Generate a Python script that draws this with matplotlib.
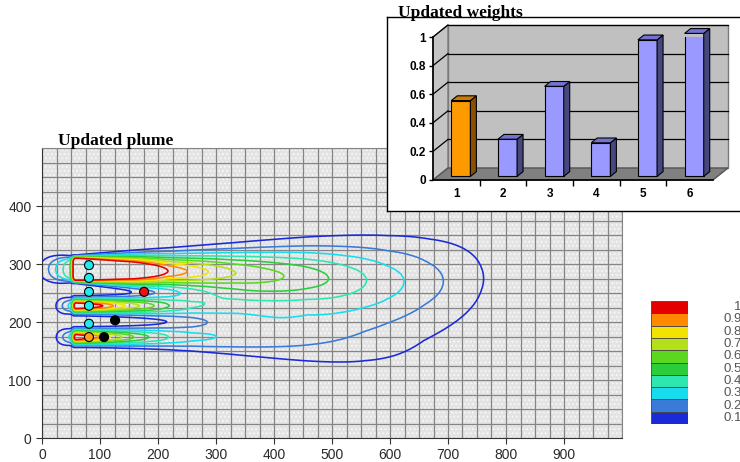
import numpy as np
import matplotlib
matplotlib.use('Agg')
import matplotlib.pyplot as plt
from matplotlib.patches import Polygon, Rectangle

plt.rcParams['font.family'] = ['Liberation Sans', 'DejaVu Sans']

# ---- plume data ----
levels = [0.1, 0.2, 0.3, 0.4, 0.5, 0.6, 0.7, 0.8, 0.9, 1.0]
level_labels = ['0.1', '0.2', '0.3', '0.4', '0.5', '0.6', '0.7', '0.8', '0.9', '1']
level_colors = ['#1a2ad8', '#3a7ad8', '#18dced', '#2ee6b0', '#2ccd3c',
                '#5ad820', '#b4e01a', '#f2e400', '#ff8a00', '#e40000']

# three sources: x, y, core width, spreading (s0 + k*d + q*d^2), drift, upstream tail
src_x = [58, 58, 58]
src_y = [291, 228, 174]
src_w = [40, 12, 14]
src_s0 = [3, 7, 7]
src_k = [0.07, 0.01, 0.01]
src_q = [1.5e-5, 1.5e-4, 1.5e-4]
src_drift = [-0.02, 0.0, 0.0]
src_tail = [50, 30, 30]
# centreline level vs distance downstream, one pair per source
up_d = [0, 100, 159, 192, 228, 271, 332, 401, 461, 537, 611, 709, 800, 900]
up_c = [1.6, 1.35, 1.0, 0.9, 0.8, 0.7, 0.6, 0.5, 0.4, 0.28, 0.19, 0.09, 0.03, 0.0]
mid_d = [0, 47, 65, 85, 110, 135, 160, 200, 280, 400, 500, 600, 700]
mid_c = [1.2, 1.0, 0.9, 0.8, 0.7, 0.6, 0.5, 0.4, 0.28, 0.14, 0.08, 0.03, 0.0]
low_d = [0, 25, 42, 60, 80, 100, 126, 160, 200, 260, 400, 500, 600, 720]
low_c = [1.15, 1.0, 0.9, 0.8, 0.7, 0.6, 0.5, 0.4, 0.33, 0.28, 0.19, 0.12, 0.06, 0.0]
profiles = [(up_d, up_c), (mid_d, mid_c), (low_d, low_c)]

# wells
well_x = [81, 81, 81, 81, 81, 81, 176, 126, 107]
well_y = [298, 276, 252, 228, 197, 174, 252, 203, 174]
well_col = ['#22e8f0'] * 5 + ['#ff9a1a', '#ee1111', 'black', 'black']

# ---- weights ----
bar_cat = [1, 2, 3, 4, 5, 6]
bar_val = [0.53, 0.26, 0.63, 0.235, 0.955, 1.0]
bar_front = ['#ff9900', '#9999ff', '#9999ff', '#9999ff', '#9999ff', '#9999ff']
bar_side = ['#8a5000', '#47477f', '#47477f', '#47477f', '#47477f', '#47477f']
bar_top = ['#cc7a00', '#7373d6', '#7373d6', '#7373d6', '#7373d6', '#7373d6']
wt_ticks = [0, 0.2, 0.4, 0.6, 0.8, 1]
wt_ticklabels = ['0', '0.2', '0.4', '0.6', '0.8', '1']


def erf(z):
    s = np.sign(z)
    z = np.abs(z)
    t = 1.0 / (1.0 + 0.3275911 * z)
    p = ((((1.061405429 * t - 1.453152027) * t + 1.421413741) * t
          - 0.284496736) * t + 0.254829592) * t
    return s * (1 - p * np.exp(-z * z))


xg = np.linspace(0, 1000, 501)
yg = np.linspace(0, 500, 501)
X, Y = np.meshgrid(xg, yg)
C = np.zeros_like(X)
for i, (pd_, pc_) in enumerate(profiles):
    sx, w = src_x[i], src_w[i]
    d = X - sx
    up = np.minimum(d, 0)
    dd = np.maximum(d, 0)
    sy = src_y[i] + src_drift[i] * dd
    tail = 0.7 * np.exp(-(up / 5) ** 2) + 0.3 * np.exp(-(up / src_tail[i]) ** 2)
    cc = np.where(d >= 0, np.interp(dd, pd_, pc_), pc_[0] * tail)
    sig = src_s0[i] + src_k[i] * dd + src_q[i] * dd ** 2 + 0.15 * np.abs(up)
    s2 = np.sqrt(2) * sig
    prof = 0.5 * (erf((Y - (sy - w / 2)) / s2) - erf((Y - (sy + w / 2)) / s2))
    prof = prof / erf(w / (2 * s2))
    C += cc * prof

fig = plt.figure(figsize=(7.4, 4.62), dpi=100)

# ---- plume panel ----
ax = fig.add_axes([42 / 740, 1 - 438 / 462, 580 / 740, 290 / 462])
ax.add_patch(Rectangle((0, 0), 1, 1, transform=ax.transAxes, facecolor='#e3e3e3',
                       edgecolor='#f6f6f6', hatch='....', lw=0, zorder=0))
ax.contour(X, Y, C, levels=levels, colors=level_colors, linewidths=1.15, zorder=3)
ax.scatter(well_x, well_y, s=42, c=well_col, edgecolors='black', linewidths=0.8, zorder=5)
ax.set_xlim(0, 1000)
ax.set_ylim(0, 500)
ax.set_xticks(np.arange(0, 1000, 100))
ax.set_yticks(np.arange(0, 500, 100))
ax.set_xticks(np.arange(0, 1001, 25), minor=True)
ax.set_yticks(np.arange(0, 501, 25), minor=True)
ax.grid(which='both', color='#858585', lw=0.9, zorder=1)
ax.set_axisbelow(True)
ax.tick_params(which='major', length=4, color='#333333', labelsize=10, labelcolor='#2a2a2a')
ax.tick_params(which='minor', length=0)
for s in ['top', 'right']:
    ax.spines[s].set_color('#858585')
for s in ['left', 'bottom']:
    ax.spines[s].set_color('#333333')
fig.text(58 / 740, 1 - 145 / 462, 'Updated plume', family='Liberation Serif',
         weight='bold', size=12.5, va='baseline')

# colour legend
lg = fig.add_axes([651 / 740, 1 - 424 / 462, 37 / 740, 123 / 462])
lg.barh(np.arange(10), 1, height=1, color=level_colors, edgecolor='#444444', lw=0.6)
lg.set_xlim(0, 1)
lg.set_ylim(-0.5, 9.5)
lg.axis('off')
for i, lab in enumerate(level_labels):
    lg.text(2.45, i, lab, transform=lg.get_yaxis_transform(), ha='right', va='center',
            size=9.5, color='#555555')

# ---- weights panel ----
frame = fig.add_axes([387 / 740, 1 - 211 / 462, 360 / 740, 194 / 462])
frame.set_xticks([])
frame.set_yticks([])
for s in frame.spines.values():
    s.set_color('black')
    s.set_linewidth(1.0)
fig.text(398 / 740, 1 - 17 / 462, 'Updated weights', family='Liberation Serif',
         weight='bold', size=12.5, va='baseline')

bx = fig.add_axes([433 / 740, 1 - 180 / 462, 280 / 740, 143 / 462])
bx.set_xlim(0.5, 6.5)
bx.set_ylim(0, 1)
bx.patch.set_alpha(0)
DX, DY = 0.321, 0.0839
x0, x1 = 0.5, 6.5
bx.add_patch(Polygon([(x0 + DX, DY), (x1 + DX, DY), (x1 + DX, 1 + DY), (x0 + DX, 1 + DY)],
                     facecolor='#c0c0c0', edgecolor='#7a7a7a', lw=1, clip_on=False, zorder=0))
bx.add_patch(Polygon([(x0, 0), (x0 + DX, DY), (x0 + DX, 1 + DY), (x0, 1)],
                     facecolor='#c4c4c4', edgecolor='#7a7a7a', lw=1, clip_on=False, zorder=0))
bx.add_patch(Polygon([(x0, 0), (x1, 0), (x1 + DX, DY), (x0 + DX, DY)],
                     facecolor='#808080', edgecolor='#555555', lw=1, clip_on=False, zorder=0))
for v in wt_ticks[1:]:
    bx.plot([x0 + DX, x1 + DX], [v + DY, v + DY], color='black', lw=0.9, clip_on=False, zorder=1)
    bx.plot([x0, x0 + DX], [v, v + DY], color='black', lw=0.9, clip_on=False, zorder=1)

f0, f1, bw = 0.3, 0.7, 0.41
base = f0 * DY
bars = bx.bar(np.array(bar_cat) + f0 * DX, bar_val, width=bw, bottom=base,
              color=bar_front, edgecolor='black', lw=0.8, zorder=3)
ddx, ddy = (f1 - f0) * DX, (f1 - f0) * DY
for b, v, cs, ct in zip(bars, bar_val, bar_side, bar_top):
    xl = b.get_x()
    xr = xl + b.get_width()
    bx.add_patch(Polygon([(xr, base), (xr + ddx, base + ddy), (xr + ddx, base + v + ddy),
                          (xr, base + v)], facecolor=cs, edgecolor='black', lw=0.8,
                         clip_on=False, zorder=3))
    bx.add_patch(Polygon([(xl, base + v), (xr, base + v), (xr + ddx, base + v + ddy),
                          (xl + ddx, base + v + ddy)], facecolor=ct, edgecolor='black',
                         lw=0.8, clip_on=False, zorder=3))

bx.set_xticks(bar_cat)
bx.set_xticklabels([str(c) for c in bar_cat], weight='bold', size=8.5)
bx.set_xticks(np.arange(1.5, 6, 1), minor=True)
bx.set_yticks(wt_ticks)
bx.set_yticklabels(wt_ticklabels, weight='bold', size=8.5)
bx.tick_params(axis='x', which='major', length=0, pad=6)
bx.tick_params(axis='x', which='minor', length=4, width=1)
bx.tick_params(axis='y', length=3, width=1, pad=2)
for s in ['top', 'right']:
    bx.spines[s].set_visible(False)
bx.spines['left'].set_linewidth(1.2)
bx.spines['bottom'].set_linewidth(1.2)

fig.savefig('out.png', dpi=100)
